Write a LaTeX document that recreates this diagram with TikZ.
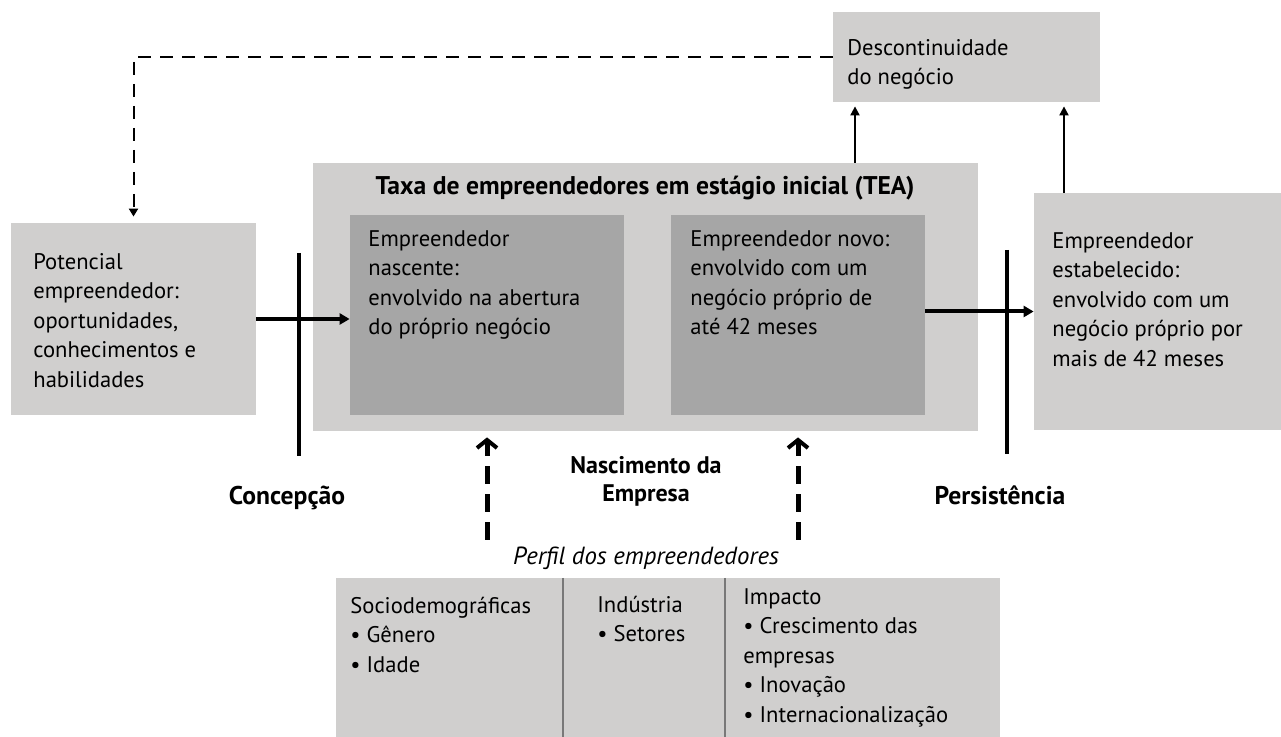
\documentclass[tikz,border=0pt]{standalone}
\usepackage{fontspec}
\setmainfont{PT Sans}
\usetikzlibrary{arrows.meta}
\definecolor{lgray}{RGB}{208,207,206}
\definecolor{dgray}{RGB}{166,166,166}
\definecolor{divgray}{RGB}{120,120,120}
\begin{document}
\begin{tikzpicture}[x=0.5pt,y=-0.5pt,
  lbox/.style={fill=lgray, inner sep=0, draw=none},
  dbox/.style={fill=dgray, inner sep=0, draw=none},
  txt/.style={anchor=north west, inner sep=0, align=left, font=\fontsize{11.3}{14.75}\selectfont},
  lbl/.style={anchor=base, inner sep=0, align=center, font=\fontsize{12.8}{14}\selectfont\bfseries},
  thickarrow/.style={line width=2pt, -{Triangle[length=5pt,width=5.5pt]}},
  thinarrow/.style={line width=1pt, -{Triangle[length=4.5pt,width=4.5pt]}},
  bar/.style={line width=2pt},
  dasharrow/.style={line width=2.5pt, dash pattern=on 9pt off 5pt, -{Straight Barb[length=4pt,width=10pt,line width=2pt]}},
  dashtop/.style={line width=1pt, dash pattern=on 6.5pt off 4.5pt, -{Triangle[length=4pt,width=4.5pt]}}
]
\useasboundingbox (0,0) rectangle (1281,737);

% boxes
\node[lbox, minimum width=133.5pt, minimum height=45pt] (desc) at (966.5,57) {};
\node[lbox, minimum width=332.5pt, minimum height=134pt] (tea) at (645.5,297) {};
\node[dbox, minimum width=137pt, minimum height=100pt] (nasc) at (487,315) {};
\node[dbox, minimum width=127pt, minimum height=100pt] (novo) at (798,315) {};
\node[lbox, minimum width=122.5pt, minimum height=96pt] (pot) at (133.5,319) {};
\node[lbox, minimum width=123.5pt, minimum height=118.5pt] (est) at (1157.5,311.5) {};
\node[lbox, minimum width=332pt, minimum height=79.5pt] (tab) at (668,657.5) {};

% table dividers
\coordinate (d1) at (563,578);
\coordinate (d2) at (725,578);
\draw[divgray, line width=0.6pt] (d1) -- (d1 |- tab.south);
\draw[divgray, line width=0.6pt] (d2) -- (d2 |- tab.south);

% texts in boxes
\node[txt] (tdesc) at (847,34) {\strut Descontinuidade\\do negócio};
\node[txt] (tpot) at (33,248) {\strut Potencial\\empreendedor:\\oportunidades,\\conhecimentos e\\habilidades};
\node[txt] (tnasc) at (368,225) {\strut Empreendedor\\nascente:\\envolvido na abertura\\do próprio negócio};
\node[txt] (tnovo) at (690,225) {\strut Empreendedor novo:\\envolvido com um\\negócio próprio de\\até 42 meses};
\node[txt] (test) at (1052,227) {\strut Empreendedor\\estabelecido:\\envolvido com um\\negócio próprio por\\mais de 42 meses};
\node[lbl] (ttea) at (645,195) {Taxa de empreendedores em estágio inicial (TEA)};

% table texts
\node[txt] (c1) at (350,592) {\strut Sociodemográficas\\• Gênero\\• Idade};
\node[txt] (c2) at (597,591) {\strut Indústria\\• Setores};
\node[txt] (c3) at (743,583) {\strut Impacto\\• Crescimento das\\empresas\\• Inovação\\• Internacionalização};

% labels
\node[lbl] (lconc) at (287,505) {Concepção};
\node[lbl] (lpers) at (1000,505) {Persistência};
\node[lbl, font=\fontsize{12}{14}\selectfont\bfseries] (lnasc) at (646,502) {Nascimento da\\Empresa};
\node[anchor=base, inner sep=0, font=\fontsize{12.4}{14}\selectfont\itshape] (lperf) at (646,565) {Perfil dos empreendedores};

% bars
\coordinate (b1t) at (299,253);
\coordinate (b1b) at (299,456);
\coordinate (b2t) at (1007,250);
\coordinate (b2b) at (1007,454);
\draw[bar] (b1t) -- (b1b);
\draw[bar] (b2t) -- (b2b);

% main arrows
\draw[thickarrow] (pot.east) -- (pot.east -| nasc.west);
\draw[thickarrow] (novo.east |- est.west) -- (est.west);

% up arrows to desc
\coordinate (a1) at (855,163);
\coordinate (a2) at (1064,193);
\draw[thinarrow, shorten >=2pt] (a1) -- (a1 |- desc.south);
\draw[thinarrow, shorten >=2pt] (a2) -- (a2 |- desc.south);

% dashed feedback
\draw[dashtop, shorten >=3pt] (desc.west) -| (pot.north);

% dashed up arrows
\coordinate (u1) at (487,540);
\coordinate (u2) at (798,540);
\draw[dasharrow, shorten >=3pt] (u1) -- (nasc.south |- tea.south);
\draw[dasharrow, shorten >=3pt] (u2) -- (novo.south |- tea.south);
\end{tikzpicture}
\end{document}
